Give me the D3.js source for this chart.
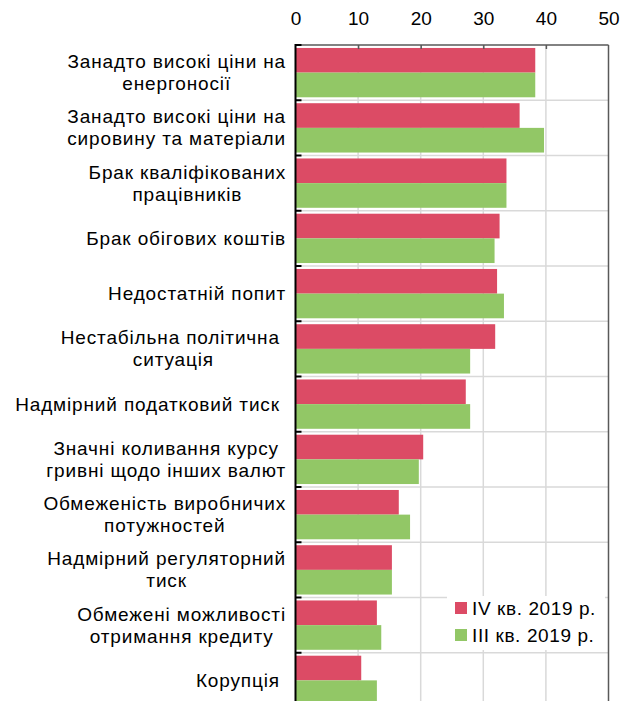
<!DOCTYPE html>
<html><head><meta charset="utf-8">
<script src="https://cdn.jsdelivr.net/npm/d3@7"></script>
<style>body{margin:0;background:#fff}svg{display:block;font-family:"Liberation Sans",Arial,sans-serif}</style>
</head><body><svg id="c" width="622" height="701"></svg>
<script>
const categories = [
  ["Занадто високі ціни на","енергоносії"],
  ["Занадто високі ціни на","сировину та матеріали"],
  ["Брак кваліфікованих","працівників"],
  ["Брак обігових коштів"],
  ["Недостатній попит"],
  ["Нестабільна політична\u00a0","ситуація"],
  ["Надмірний податковий тиск\u00a0"],
  ["Значні коливання курсу","гривні щодо інших валют"],
  ["Обмеженість виробничих","потужностей"],
  ["Надмірний регуляторний","тиск"],
  ["Обмежені можливості","отримання кредиту"],
  ["Корупція\u00a0"]
];
const seriesNames = ["IV кв. 2019 р.", "III кв. 2019 р."];
const valuesQ4 = [38.3, 35.8, 33.7, 32.6, 32.2, 31.9, 27.2, 20.4, 16.5, 15.4, 13.0, 10.5];
const valuesQ3 = [38.3, 39.7, 33.7, 31.8, 33.3, 27.9, 27.9, 19.7, 18.3, 15.4, 13.7, 13.0];
const xTicks = [0, 10, 20, 30, 40, 50];
const colors = ["#dc4b65", "#92c766"];

(function () {
const svg = d3.select("#c");
const pL = 295.5, pR = 608.5, pT = 45, pB = 708;
const x = d3.scaleLinear().domain([0, 50]).range([pL, pR]);
const y = d3.scaleBand().domain(d3.range(categories.length)).range([pT, pB]).padding(0);
const y1 = d3.scaleBand().domain([0, 1]).range([0, y.bandwidth()]).paddingInner(0).paddingOuter(0.12);

svg.append("g").selectAll("line").data(xTicks.slice(1, -1)).join("line")
  .attr("x1", d => x(d)).attr("x2", d => x(d)).attr("y1", pT).attr("y2", pB)
  .attr("stroke", "#d9d9d9").attr("stroke-width", 1.5);
svg.append("g").selectAll("line").data(d3.range(1, categories.length)).join("line")
  .attr("x1", pL).attr("x2", pR).attr("y1", d => y(d)).attr("y2", d => y(d))
  .attr("stroke", "#d9d9d9").attr("stroke-width", 1.5);

const data = [valuesQ4, valuesQ3];
data.forEach((vals, s) => {
  svg.append("g").selectAll("rect").data(vals).join("rect")
    .attr("x", x(0)).attr("y", (d, i) => y(i) + y1(s))
    .attr("width", d => x(d) - x(0)).attr("height", y1.bandwidth())
    .attr("fill", colors[s]);
});

svg.append("line").attr("x1", pR).attr("x2", pR).attr("y1", pT).attr("y2", pB)
  .attr("stroke", "#595959").attr("stroke-width", 1.5);

const xAxis = d3.axisTop(x).tickValues(xTicks).tickSize(-4).tickPadding(20);
const gx = svg.append("g").attr("transform", `translate(0,${pT})`).call(xAxis);
gx.select(".domain").attr("stroke", "#595959").attr("stroke-width", 1.5).attr("d", `M${pL},0H${pR}`);
gx.selectAll(".tick line").attr("stroke", "#595959").attr("stroke-width", 1.5);
gx.selectAll(".tick").filter(d => d === 0 || d === 50).select("line").remove();
gx.selectAll(".tick text").attr("font-size", 19).attr("fill", "#000").attr("font-family", "Liberation Sans, Arial, sans-serif");

svg.append("line").attr("x1", pL).attr("x2", pL).attr("y1", pT - 1).attr("y2", pB)
  .attr("stroke", "#000").attr("stroke-width", 2);
svg.append("g").selectAll("line").data(d3.range(0, categories.length + 1)).join("line")
  .attr("x1", pL).attr("x2", pL + 6)
  .attr("y1", d => d < categories.length ? y(d) : pB).attr("y2", d => d < categories.length ? y(d) : pB)
  .attr("stroke", "#000").attr("stroke-width", 2);

const labelRight = 286, lineH = 22, fs = 19;
categories.forEach((lines, i) => {
  const g = svg.append("g");
  const cy = y(i) + y.bandwidth() / 2;
  const texts = lines.map((t, k) => g.append("text").text(t)
    .attr("font-size", fs).attr("letter-spacing", 0.85).attr("fill", "#000").attr("text-anchor", "middle")
    .attr("y", cy + 6.5 + (k - (lines.length - 1) / 2) * lineH));
  const maxW = d3.max(texts, t => t.node().getComputedTextLength());
  texts.forEach(t => t.attr("x", labelRight - maxW / 2));
});

const lg = svg.append("g");
lg.append("rect").attr("x", 447).attr("y", 596).attr("width", 158).attr("height", 54).attr("fill", "#fff");
seriesNames.forEach((n, s) => {
  lg.append("rect").attr("x", 455).attr("y", 602 + s * 27).attr("width", 12).attr("height", 12).attr("fill", colors[s]);
  lg.append("text").attr("x", 472).attr("y", 615 + s * 27).attr("font-size", 19).attr("letter-spacing", 0.6).attr("fill", "#000").text(n);
});
})();
</script></body></html>
